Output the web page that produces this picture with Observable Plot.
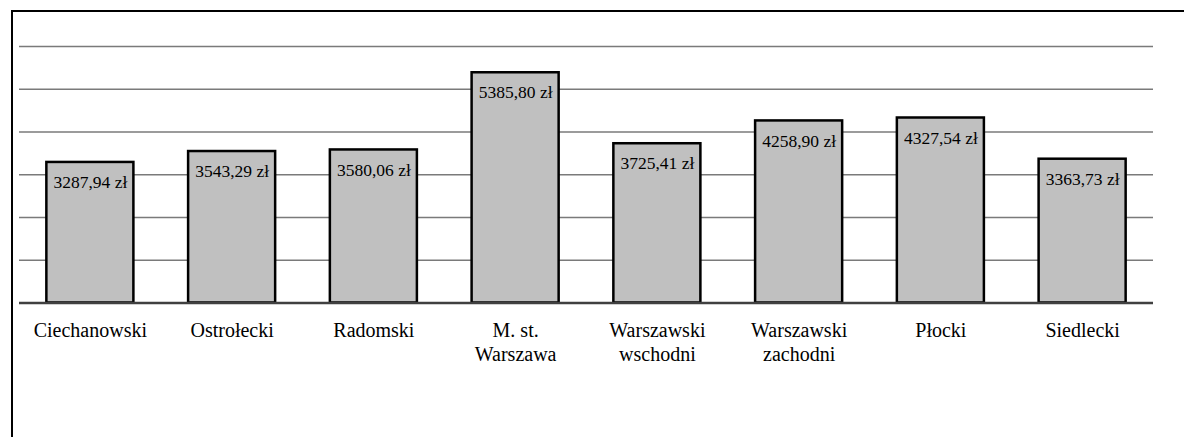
<!DOCTYPE html>
<html>
<head>
<meta charset="utf-8">
<script src="https://cdn.jsdelivr.net/npm/d3@7"></script>
<script src="https://cdn.jsdelivr.net/npm/@observablehq/plot@0.6"></script>
<style>
  html, body { margin: 0; padding: 0; background: #fff; overflow: hidden; }
  #wrap { position: relative; width: 1184px; height: 437px; }
  #frame { position: absolute; left: 11px; top: 10px; width: 1300px; height: 600px;
           border-left: 2.5px solid #000; border-top: 2.5px solid #000; }
  #chart { position: absolute; left: 0; top: 0; }
</style>
</head>
<body>
<div id="wrap"><div id="frame"></div><div id="chart"></div></div>
<script>
const categories = ["Ciechanowski", "Ostrołecki", "Radomski", "M. st. Warszawa",
  "Warszawski wschodni", "Warszawski zachodni", "Płocki", "Siedlecki"];
const tickLabels = ["Ciechanowski", "Ostrołecki", "Radomski", "M. st.\nWarszawa",
  "Warszawski\nwschodni", "Warszawski\nzachodni", "Płocki", "Siedlecki"];
const values = [3287.94, 3543.29, 3580.06, 5385.80, 3725.41, 4258.90, 4327.54, 3363.73];
const gridTicks = [1000, 2000, 3000, 4000, 5000, 6000];

const data = categories.map((c, i) => ({ category: c, value: values[i] }));
const labelOf = new Map(categories.map((c, i) => [c, tickLabels[i]]));
const fmt = v => v.toFixed(2).replace(".", ",") + " zł";
const FONT = "Liberation Serif";

const chart = Plot.plot({
  width: 1184,
  height: 437,
  marginLeft: 19,
  marginRight: 31,
  marginTop: 46,
  marginBottom: 134.5,
  style: { fontFamily: FONT, fontSize: "18px", color: "#000", background: "transparent" },
  x: { domain: categories, paddingInner: 0.386, paddingOuter: 0.193, round: false, axis: null },
  y: { domain: [0, 6000], axis: null },
  marks: [
    Plot.ruleY(gridTicks, { stroke: "#7a7a7a", strokeWidth: 1.5 }),
    Plot.barY(data, { x: "category", y: "value", fill: "#c0c0c0", stroke: "#000", strokeWidth: 2.5 }),
    Plot.ruleY([0], { stroke: "#404040", strokeWidth: 2.5 }),
    Plot.text(data, { x: "category", y: "value", text: d => fmt(d.value), dy: 20, fill: "#000", fontSize: 17.5, fontFamily: FONT }),
    Plot.axisX({ tickSize: 0, tickPadding: 17, label: null, tickFormat: c => labelOf.get(c), lineHeight: 1.2, fontSize: 20, fontFamily: FONT, fill: "#000" })
  ]
});
chart.querySelectorAll("text, tspan, g").forEach(el => {
  el.style.setProperty("font-family", "'Liberation Serif'", "important");
});
document.getElementById("chart").appendChild(chart);
</script>
</body>
</html>
